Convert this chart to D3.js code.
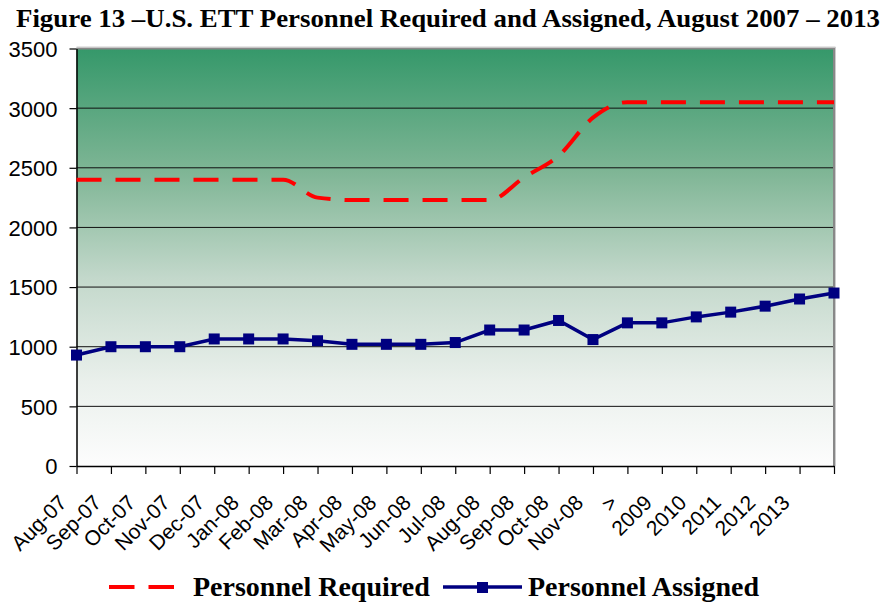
<!DOCTYPE html>
<html><head><meta charset="utf-8">
<script src="https://cdn.jsdelivr.net/npm/d3@7"></script>
<style>body{margin:0;background:#fff}svg{display:block}</style>
</head><body>
<svg id="c" width="885" height="603"></svg>
<script>
const categories = ["Aug-07","Sep-07","Oct-07","Nov-07","Dec-07","Jan-08","Feb-08","Mar-08","Apr-08","May-08","Jun-08","Jul-08","Aug-08","Sep-08","Oct-08","Nov-08",">","2009","2010","2011","2012","2013",""];
const required = [2400,2400,2400,2400,2400,2400,2400,2250,2230,2230,2230,2230,2230,2420,2600,2920,3050,3050,3050,3050,3050,3050,3050];
const assigned = [930,1000,1000,1000,1065,1065,1065,1050,1020,1020,1020,1035,1140,1140,1220,1060,1200,1200,1250,1290,1340,1400,1450];
const yTicks = [0,500,1000,1500,2000,2500,3000,3500];
const titleText = "Figure 13 \u2013U.S. ETT Personnel Required and Assigned, August 2007 \u2013 2013";
const legendLabels = ["Personnel Required","Personnel Assigned"];

const svg = d3.select("#c");
const L = 76.5, R = 834, T = 48.5, B = 466;
const x = d3.scalePoint().domain(d3.range(categories.length)).range([L, R]);
const y = d3.scaleLinear().domain([0, 3500]).range([B, T]);

const defs = svg.append("defs");
const g = defs.append("linearGradient").attr("id","bg").attr("x1",0).attr("y1",0).attr("x2",0).attr("y2",1);
[[0,"#35986a"],[0.3,"#80b696"],[0.55,"#c3d8cb"],[0.8,"#eaf0ec"],[1,"#fdfdfd"]].forEach(s=>g.append("stop").attr("offset",s[0]).attr("stop-color",s[1]));

svg.append("rect").attr("x",L).attr("y",T).attr("width",R-L).attr("height",B-T).attr("fill","url(#bg)");

svg.append("g").selectAll("line").data(yTicks.filter(d=>d>0 && d<3500)).join("line")
  .attr("x1",L).attr("x2",R).attr("y1",d=>y(d)).attr("y2",d=>y(d))
  .attr("stroke","#111").attr("stroke-width",1);

svg.append("path").attr("d",`M${L},${T}H${R}V${B}`).attr("fill","none").attr("stroke","#888").attr("stroke-width",2);
svg.append("path").attr("d",`M${L},${T-1.5}H${R+1.5}V${B}`).attr("fill","none").attr("stroke","#ccc").attr("stroke-width",1);

const yAxis = d3.axisLeft(y).tickValues(yTicks).tickFormat(d3.format("d")).tickSize(7).tickPadding(12).tickSizeOuter(0);
const ya = svg.append("g").attr("transform",`translate(${L},0)`).call(yAxis);
ya.select(".domain").attr("stroke","#000").attr("stroke-width",1.5);
ya.selectAll(".tick line").attr("stroke","#000").attr("stroke-width",1.2);
ya.selectAll(".tick text").attr("font-family","'Liberation Sans', Arial, sans-serif").attr("font-size",22).attr("fill","#000").attr("dy","0.36em");

const xAxis = d3.axisBottom(x).tickSize(8).tickSizeOuter(0).tickFormat(i=>categories[i]);
const xa = svg.append("g").attr("transform",`translate(0,${B})`).call(xAxis);
xa.select(".domain").attr("stroke","#000").attr("stroke-width",1.5);
xa.selectAll(".tick line").attr("stroke","#000").attr("stroke-width",1.2);
xa.selectAll(".tick text").attr("font-family","'Liberation Sans', Arial, sans-serif").attr("font-size",21).attr("fill","#000")
  .attr("text-anchor","end").attr("dy",null).attr("y",null)
  .attr("transform","translate(-9,38) rotate(-45)");

const lineR = d3.line().x((d,i)=>x(i)).y(d=>y(d)).curve(d3.curveMonotoneX);
svg.append("path").datum(required).attr("d",lineR).attr("fill","none")
  .attr("stroke","#ff0000").attr("stroke-width",4).attr("stroke-dasharray","25,14");

const lineA = d3.line().x((d,i)=>x(i)).y(d=>y(d));
svg.append("path").datum(assigned).attr("d",lineA).attr("fill","none")
  .attr("stroke","#000080").attr("stroke-width",3.5);
svg.append("g").selectAll("rect").data(assigned).join("rect")
  .attr("x",(d,i)=>x(i)-5.5).attr("y",d=>y(d)-5.5).attr("width",11).attr("height",11)
  .attr("fill","#000080");

svg.append("text").attr("x",16).attr("y",27)
  .attr("font-family","'Liberation Serif','Times New Roman',serif").attr("font-weight","bold")
  .attr("font-size",25).attr("fill","#000")
  .attr("textLength",864).attr("lengthAdjust","spacingAndGlyphs").text(titleText);

const lg = svg.append("g");
lg.append("line").attr("x1",109).attr("x2",176).attr("y1",587).attr("y2",587)
  .attr("stroke","#ff0000").attr("stroke-width",4).attr("stroke-dasharray","25.5,14");
lg.append("text").attr("x",193).attr("y",596).attr("font-family","'Liberation Serif','Times New Roman',serif")
  .attr("font-weight","bold").attr("font-size",28).attr("fill","#000").text(legendLabels[0]);
lg.append("line").attr("x1",443).attr("x2",522).attr("y1",587).attr("y2",587)
  .attr("stroke","#000080").attr("stroke-width",3.5);
lg.append("rect").attr("x",477).attr("y",582).attr("width",11).attr("height",11).attr("fill","#000080");
lg.append("text").attr("x",528).attr("y",596).attr("font-family","'Liberation Serif','Times New Roman',serif")
  .attr("font-weight","bold").attr("font-size",28).attr("fill","#000").text(legendLabels[1]);
</script>
</body></html>
